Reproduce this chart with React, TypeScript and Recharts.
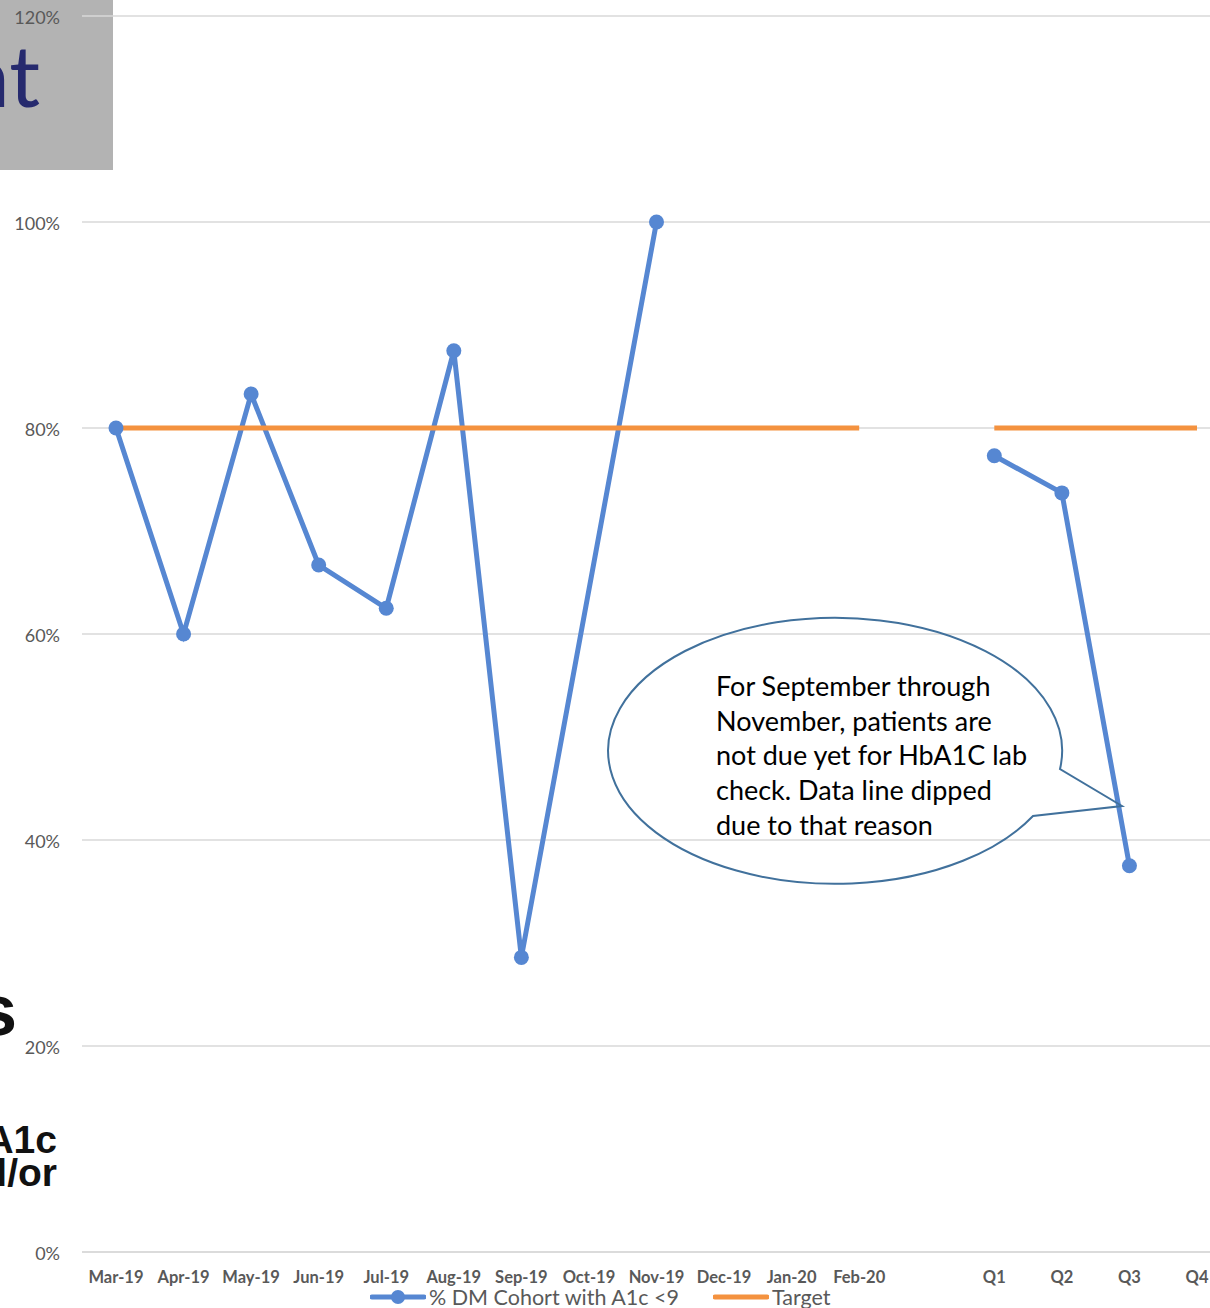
import { LineChart, Line, XAxis, YAxis, CartesianGrid } from "recharts";

const MONTHS = ["Mar-19", "Apr-19", "May-19", "Jun-19", "Jul-19", "Aug-19", "Sep-19", "Oct-19", "Nov-19", "Dec-19", "Jan-20", "Feb-20"];
const QUARTERS = ["Q1", "Q2", "Q3", "Q4"];

// % DM cohort with A1c < 9 (Oct-19 has no point, line jumps Sep -> Nov)
const MONTH_COHORT = [80, 60, 83.3, 66.7, 62.5, 87.5, 28.6, null, 100, null, null, null];
const QUARTER_COHORT = [77.3, 73.7, 37.5, null];

const MONTH_TARGET = [80, 80, 80, 80, 80, 80, 80, 80, 80, 80, 80, 80];
const QUARTER_TARGET = [80, 80, 80, 80];

const Y_TICKS = [0, 20, 40, 60, 80, 100, 120];

const BLUE = "#5687D2";
const ORANGE = "#F4923F";
const FONT = "Lato, 'Open Sans', sans-serif";

const data = [
  ...MONTHS.map((label, i) => ({ label, monthly: MONTH_COHORT[i], quarterly: null, target: MONTH_TARGET[i] })),
  { label: "", monthly: null, quarterly: null, target: null },
  ...QUARTERS.map((label, i) => ({ label, monthly: null, quarterly: QUARTER_COHORT[i], target: QUARTER_TARGET[i] })),
];

const CALLOUT_LINES = [
  "For September through",
  "November, patients are",
  "not due yet for HbA1C lab",
  "check. Data line dipped",
  "due to that reason",
];

export default function App() {
  return (
    <div style={{ position: "absolute", top: 0, left: 0, width: 1210, height: 1308, overflow: "hidden", background: "#fff", fontFamily: FONT }}>
      {/* leftovers of the slide behind the chart */}
      <div style={{ position: "absolute", left: 0, top: 0, width: 113, height: 170, background: "#b3b3b3" }} />
      <div style={{ position: "absolute", right: 1170, top: 24, fontSize: 86, color: "#262a6e", lineHeight: "100px", whiteSpace: "nowrap" }}>nt</div>
      <div style={{ position: "absolute", right: 1193, top: 970, fontSize: 72, fontWeight: 700, color: "#111", fontFamily: "'Liberation Sans', Arial, sans-serif", lineHeight: "80px" }}>s</div>
      <div style={{ position: "absolute", right: 1153, top: 1123, fontSize: 39, fontWeight: 700, color: "#111", fontFamily: "'Liberation Sans', Arial, sans-serif", lineHeight: "33px", textAlign: "right", whiteSpace: "nowrap" }}>
        <div>A1c</div>
        <div>l/or</div>
      </div>

      <div style={{ position: "absolute", left: 0, top: 0 }}>
        <LineChart width={1240} height={1300} data={data} margin={{ top: 16, right: 9, bottom: 18, left: 10 }} style={{ fontFamily: FONT }}>
          <CartesianGrid vertical={false} stroke="#d9d9d9" strokeWidth={1.5} />
          <XAxis
            dataKey="label"
            tickLine={false}
            tickSize={0}
            tickMargin={19}
            height={30}
            padding={{ left: 34, right: 34 }}
            axisLine={{ stroke: "#d9d9d9", strokeWidth: 1.5 }}
            interval={0}
            tick={{ fontSize: 16.5, fontWeight: 700, fill: "#595959" }}
          />
          <YAxis
            domain={[0, 120]}
            ticks={Y_TICKS}
            tickFormatter={(v: number) => `${v}%`}
            width={72}
            axisLine={false}
            tickLine={false}
            tickSize={0}
            tickMargin={22}
            tick={{ fontSize: 18, fill: "#595959", dy: 2 }}
          />
          <Line dataKey="monthly" stroke={BLUE} strokeWidth={5} connectNulls dot={{ r: 7.5, fill: BLUE, stroke: BLUE, strokeWidth: 0 }} isAnimationActive={false} />
          <Line dataKey="quarterly" stroke={BLUE} strokeWidth={5} dot={{ r: 7.5, fill: BLUE, stroke: BLUE, strokeWidth: 0 }} isAnimationActive={false} />
          <Line dataKey="target" stroke={ORANGE} strokeWidth={5} dot={false} isAnimationActive={false} />
        </LineChart>
      </div>

      {/* callout */}
      <svg width={1210} height={1308} style={{ position: "absolute", left: 0, top: 0, pointerEvents: "none" }}>
        <path d="M 1060 769 A 227 133 0 1 0 1033 816 L 1122 806 Z" fill="none" stroke="#41719C" strokeWidth={2} />
      </svg>
      <div style={{ position: "absolute", left: 716, top: 669, fontSize: 27, lineHeight: "34.7px", color: "#000", whiteSpace: "nowrap" }}>
        {CALLOUT_LINES.map((t) => (
          <div key={t}>{t}</div>
        ))}
      </div>

      {/* legend */}
      <div style={{ position: "absolute", left: 370, top: 1284, display: "flex", alignItems: "center", fontSize: 21.5, color: "#595959", whiteSpace: "nowrap" }}>
        <svg width={56} height={16}>
          <line x1={2} y1={8} x2={54} y2={8} stroke={BLUE} strokeWidth={5} strokeLinecap="round" />
          <circle cx={28} cy={8} r={7} fill={BLUE} />
        </svg>
        <span style={{ marginLeft: 3 }}>% DM Cohort with A1c &lt;9</span>
        <svg width={56} height={16} style={{ marginLeft: 34 }}>
          <line x1={2} y1={8} x2={54} y2={8} stroke={ORANGE} strokeWidth={5} strokeLinecap="round" />
        </svg>
        <span style={{ marginLeft: 3 }}>Target</span>
      </div>
    </div>
  );
}
